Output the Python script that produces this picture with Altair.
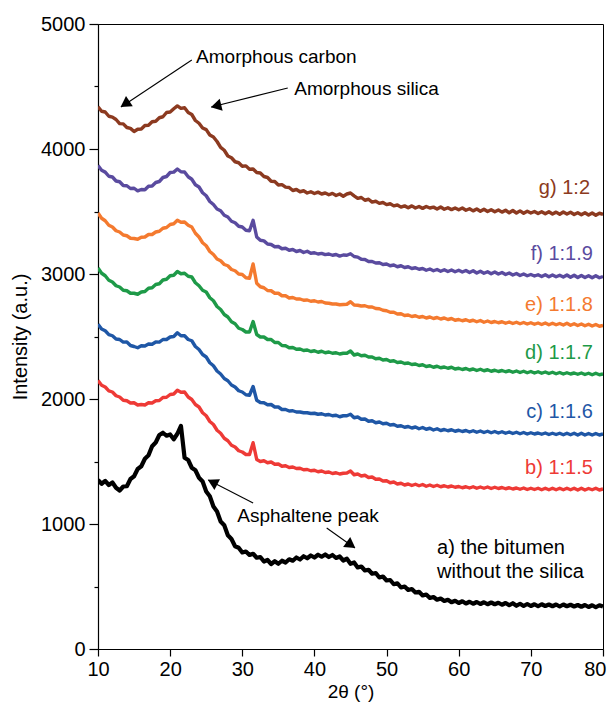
import altair as alt
import pandas as pd

# 2θ sampling positions (degrees)
two_theta = [10 + 0.5 * i for i in range(141)]

a_bitumen = [
    1352, 1322, 1345, 1312, 1332, 1290, 1268, 1300, 1302, 1360,
    1382, 1440, 1462, 1522, 1550, 1622, 1652, 1712, 1730, 1706,
    1716, 1678, 1722, 1785, 1530, 1512, 1450, 1430, 1370, 1340,
    1260, 1222, 1140, 1100, 1020, 990, 910, 880, 822, 810,
    772, 780, 752, 762, 730, 736, 700, 712, 680, 702,
    682, 706, 692, 718, 706, 732, 716, 742, 726, 748,
    732, 754, 738, 756, 736, 752, 728, 740, 708, 722,
    682, 692, 652, 660, 628, 634, 602, 608, 572, 580,
    548, 552, 518, 526, 492, 500, 472, 480, 452, 458,
    428, 436, 408, 416, 394, 404, 384, 394, 374, 386,
    368, 382, 364, 378, 362, 376, 360, 374, 358, 372,
    358, 370, 354, 368, 350, 366, 346, 362, 344, 360,
    344, 358, 342, 358, 344, 356, 342, 356, 340, 356,
    342, 354, 340, 352, 338, 352, 336, 350, 334, 350,
    340,
]
b_1_1_5 = [
    2148, 2110, 2096, 2065, 2056, 2026, 2016, 1990, 1986, 1968,
    1970, 1952, 1956, 1952, 1970, 1968, 1986, 1988, 2012, 2014,
    2036, 2040, 2070, 2054, 2056, 2016, 1996, 1956, 1936, 1890,
    1866, 1820, 1796, 1750, 1726, 1686, 1666, 1630, 1616, 1586,
    1576, 1556, 1556, 1650, 1516, 1500, 1506, 1490, 1496, 1478,
    1480, 1462, 1466, 1452, 1456, 1444, 1446, 1434, 1436, 1426,
    1430, 1418, 1424, 1412, 1416, 1404, 1410, 1400, 1406, 1408,
    1424, 1394, 1400, 1384, 1390, 1372, 1376, 1358, 1360, 1344,
    1346, 1330, 1336, 1320, 1326, 1312, 1320, 1308, 1318, 1306,
    1316, 1302, 1312, 1300, 1310, 1298, 1306, 1296, 1304, 1294,
    1300, 1290, 1298, 1288, 1298, 1286, 1296, 1286, 1296, 1284,
    1294, 1284, 1292, 1282, 1290, 1280, 1288, 1278, 1288, 1276,
    1286, 1276, 1286, 1274, 1286, 1274, 1286, 1274, 1286, 1274,
    1286, 1274, 1286, 1272, 1286, 1272, 1284, 1274, 1286, 1272,
    1280,
]
c_1_1_6 = [
    2598, 2560, 2546, 2515, 2506, 2480, 2476, 2455, 2456, 2428,
    2420, 2410, 2426, 2424, 2440, 2438, 2456, 2455, 2476, 2476,
    2496, 2500, 2530, 2506, 2506, 2476, 2466, 2420, 2396, 2356,
    2336, 2290, 2266, 2224, 2200, 2164, 2146, 2112, 2096, 2066,
    2056, 2034, 2030, 2100, 1990, 1972, 1970, 1954, 1956, 1936,
    1936, 1916, 1916, 1904, 1906, 1896, 1896, 1890, 1890, 1884,
    1886, 1878, 1882, 1872, 1876, 1866, 1870, 1858, 1866, 1866,
    1878, 1850, 1856, 1838, 1840, 1822, 1826, 1810, 1816, 1802,
    1806, 1792, 1796, 1782, 1786, 1774, 1780, 1768, 1776, 1762,
    1772, 1758, 1766, 1752, 1762, 1748, 1756, 1746, 1754, 1742,
    1750, 1740, 1748, 1736, 1746, 1734, 1744, 1732, 1742, 1730,
    1740, 1728, 1738, 1726, 1736, 1724, 1734, 1722, 1732, 1720,
    1730, 1720, 1728, 1718, 1728, 1716, 1726, 1716, 1726, 1714,
    1726, 1714, 1726, 1712, 1726, 1712, 1724, 1712, 1724, 1712,
    1720,
]
d_1_1_7 = [
    3048, 3006, 2986, 2950, 2936, 2906, 2896, 2870, 2866, 2846,
    2846, 2838, 2856, 2860, 2886, 2890, 2916, 2922, 2952, 2958,
    2986, 2990, 3020, 3002, 3006, 2982, 2976, 2930, 2906, 2870,
    2856, 2810, 2786, 2740, 2716, 2676, 2656, 2618, 2602, 2566,
    2556, 2536, 2536, 2620, 2516, 2496, 2496, 2476, 2476, 2452,
    2452, 2428, 2426, 2410, 2412, 2398, 2400, 2388, 2392, 2380,
    2386, 2374, 2382, 2370, 2376, 2366, 2370, 2360, 2366, 2366,
    2384, 2352, 2360, 2346, 2350, 2336, 2336, 2322, 2326, 2312,
    2316, 2302, 2306, 2292, 2296, 2284, 2288, 2276, 2280, 2268,
    2274, 2260, 2266, 2254, 2262, 2250, 2256, 2246, 2254, 2240,
    2246, 2236, 2244, 2232, 2240, 2228, 2238, 2226, 2234, 2222,
    2230, 2220, 2228, 2218, 2226, 2214, 2224, 2212, 2222, 2210,
    2220, 2208, 2218, 2206, 2216, 2204, 2214, 2202, 2212, 2200,
    2210, 2200, 2208, 2198, 2208, 2196, 2206, 2194, 2206, 2194,
    2200,
]
e_1_1_8 = [
    3488, 3446, 3426, 3390, 3376, 3346, 3336, 3312, 3306, 3286,
    3284, 3278, 3294, 3296, 3316, 3316, 3336, 3342, 3366, 3372,
    3396, 3402, 3430, 3414, 3416, 3390, 3376, 3326, 3296, 3250,
    3226, 3180, 3156, 3120, 3106, 3076, 3066, 3036, 3026, 3000,
    2996, 2970, 2966, 3080, 2926, 2898, 2890, 2868, 2866, 2846,
    2846, 2826, 2826, 2808, 2812, 2800, 2800, 2790, 2792, 2782,
    2786, 2776, 2780, 2768, 2766, 2760, 2760, 2754, 2756, 2758,
    2778, 2752, 2750, 2744, 2746, 2736, 2736, 2724, 2722, 2710,
    2706, 2694, 2694, 2680, 2682, 2668, 2672, 2660, 2666, 2654,
    2660, 2648, 2656, 2644, 2652, 2640, 2648, 2636, 2644, 2630,
    2636, 2626, 2634, 2622, 2630, 2618, 2628, 2614, 2624, 2612,
    2620, 2610, 2618, 2606, 2616, 2604, 2614, 2602, 2612, 2600,
    2610, 2598, 2608, 2596, 2608, 2594, 2606, 2594, 2604, 2592,
    2606, 2590, 2602, 2588, 2600, 2586, 2598, 2584, 2596, 2582,
    2588,
]
f_1_1_9 = [
    3868, 3830, 3815, 3782, 3776, 3744, 3738, 3708, 3706, 3684,
    3686, 3665, 3676, 3674, 3702, 3704, 3732, 3740, 3772, 3780,
    3812, 3815, 3840, 3818, 3816, 3778, 3758, 3714, 3696, 3650,
    3626, 3580, 3556, 3520, 3506, 3470, 3456, 3422, 3410, 3382,
    3376, 3350, 3346, 3430, 3296, 3270, 3265, 3240, 3236, 3218,
    3220, 3202, 3206, 3190, 3196, 3180, 3188, 3172, 3182, 3166,
    3170, 3160, 3165, 3155, 3160, 3150, 3156, 3143, 3152, 3150,
    3162, 3140, 3135, 3118, 3116, 3100, 3100, 3088, 3090, 3076,
    3080, 3066, 3072, 3058, 3066, 3052, 3058, 3044, 3050, 3038,
    3044, 3030, 3040, 3026, 3036, 3022, 3034, 3020, 3032, 3018,
    3030, 3016, 3028, 3012, 3026, 3008, 3022, 3006, 3018, 3002,
    3016, 3000, 3012, 2996, 3008, 2992, 3004, 2988, 3000, 2986,
    2996, 2984, 2994, 2980, 2994, 2978, 2992, 2978, 2990, 2976,
    2992, 2974, 2990, 2972, 2988, 2972, 2986, 2970, 2986, 2970,
    2980,
]
g_1_2 = [
    4338, 4302, 4296, 4262, 4255, 4236, 4203, 4201, 4172, 4165,
    4140, 4158, 4160, 4188, 4190, 4218, 4222, 4250, 4258, 4292,
    4296, 4322, 4345, 4325, 4330, 4292, 4276, 4228, 4206, 4168,
    4155, 4112, 4096, 4060, 4013, 3990, 3944, 3930, 3898, 3890,
    3862, 3865, 3838, 3840, 3812, 3808, 3780, 3772, 3742, 3740,
    3712, 3715, 3695, 3692, 3668, 3676, 3658, 3666, 3648, 3658,
    3644, 3655, 3640, 3648, 3634, 3645, 3628, 3640, 3622, 3640,
    3648, 3625, 3605, 3612, 3590, 3598, 3575, 3582, 3565, 3572,
    3555, 3562, 3545, 3552, 3535, 3545, 3530, 3545, 3528, 3540,
    3525, 3540, 3528, 3535, 3520, 3536, 3518, 3530, 3515, 3528,
    3514, 3528, 3510, 3522, 3505, 3520, 3502, 3518, 3500, 3514,
    3498, 3512, 3495, 3510, 3490, 3508, 3488, 3505, 3486, 3502,
    3488, 3500, 3484, 3498, 3482, 3498, 3480, 3495, 3478, 3496,
    3480, 3494, 3476, 3490, 3474, 3490, 3472, 3488, 3470, 3486,
    3478,
]

series_keys = ["a", "b", "c", "d", "e", "f", "g"]
series_values = [a_bitumen, b_1_1_5, c_1_1_6, d_1_1_7, e_1_1_8, f_1_1_9, g_1_2]
series_colors = ["#000000", "#ee3a36", "#1f57a6", "#1e9a48", "#f47a2f", "#5a4b9f", "#8c3a20"]
series_widths = [4.2, 3.4, 3.4, 3.4, 3.4, 3.4, 3.4]

for vals in series_values:
    assert len(vals) == len(two_theta), len(vals)

# Curve labels
label_texts = ["g) 1:2", "f) 1:1.9", "e) 1:1.8", "d) 1:1.7", "c) 1:1.6", "b) 1:1.5"]
label_x = [78.2, 78.6, 78.6, 78.6, 78.6, 78.6]
label_y = [3690, 3160, 2750, 2370, 1900, 1450]
label_colors = ["#8c3a20", "#5a4b9f", "#f47a2f", "#1e9a48", "#1f57a6", "#ee3a36"]

bitumen_texts = ["a) the bitumen", "without the silica"]
bitumen_x = [57.0, 57.0]
bitumen_y = [808, 616]

# Annotations
note_texts = ["Amorphous carbon", "Amorphous silica", "Asphaltene peak"]
note_x = [23.6, 37.2, 29.3]
note_y = [4736, 4480, 1064]

arrow_x = [23.0, 36.3, 31.5, 41.7]
arrow_y = [4712, 4488, 1168, 968]
arrow_x2 = [13.2, 25.7, 25.3, 45.6]
arrow_y2 = [4336, 4336, 1352, 808]
head_x = [13.74, 26.36, 25.87, 45.07]
head_y = [4360, 4344, 1334, 832]
head_angle = [236.5, 256.1, 297.0, 125.5]

rows = []
for key, vals, w in zip(series_keys, series_values, series_widths):
    for t, v in zip(two_theta, vals):
        rows.append({"two_theta": t, "intensity": v, "series": key, "w": w})
df = pd.DataFrame(rows)

labels_df = pd.DataFrame({"x": label_x, "y": label_y, "text": label_texts, "color": label_colors})
bitumen_df = pd.DataFrame({"x": bitumen_x, "y": bitumen_y, "text": bitumen_texts})
notes_df = pd.DataFrame({"x": note_x, "y": note_y, "text": note_texts})
arrows_df = pd.DataFrame({"x": arrow_x, "y": arrow_y, "x2": arrow_x2, "y2": arrow_y2})
heads_df = pd.DataFrame({"x": head_x, "y": head_y, "angle": head_angle})

FONT = "Liberation Sans"

x_scale = alt.Scale(domain=[10, 80], nice=False, zero=False)
y_scale = alt.Scale(domain=[0, 5000], nice=False, zero=False)

x_axis = alt.Axis(
    title="2θ (°)",
    values=list(range(10, 81, 5)),
    labelExpr="datum.value % 10 === 0 ? datum.label : ''",
    tickSize={"condition": {"test": "datum.value % 10 === 0", "value": 7}, "value": 4},
    labelAlign={"condition": {"test": "datum.value === 80", "value": "right"}, "value": "center"},
    labelOffset={"condition": {"test": "datum.value === 80", "value": 3}, "value": 0},
    labelPadding=3,
    titlePadding=3,
    titleFontSize=19,
    labelFlush=False,
)
y_axis = alt.Axis(
    title="Intensity (a.u.)",
    values=list(range(0, 5001, 500)),
    labelExpr="datum.value % 1000 === 0 ? datum.label : ''",
    tickSize={"condition": {"test": "datum.value % 1000 === 0", "value": 9}, "value": 4},
    labelPadding=4,
    titlePadding=10,
    titleFontSize=20,
    format="d",
    labelFlush=False,
)

lines = alt.Chart(df).mark_line(clip=True, strokeJoin="round").encode(
    x=alt.X("two_theta:Q", scale=x_scale, axis=x_axis),
    y=alt.Y("intensity:Q", scale=y_scale, axis=y_axis),
    color=alt.Color("series:N", scale=alt.Scale(domain=series_keys, range=series_colors), legend=None),
    strokeWidth=alt.StrokeWidth("w:Q", scale=None),
    detail="series:N",
)

curve_labels = alt.Chart(labels_df).mark_text(
    align="right", baseline="middle", font=FONT, fontSize=20
).encode(
    x=alt.X("x:Q", scale=x_scale),
    y=alt.Y("y:Q", scale=y_scale),
    text="text:N",
    color=alt.Color("color:N", scale=None),
)

bitumen_labels = alt.Chart(bitumen_df).mark_text(
    align="left", baseline="middle", font=FONT, fontSize=20, color="black"
).encode(
    x=alt.X("x:Q", scale=x_scale),
    y=alt.Y("y:Q", scale=y_scale),
    text="text:N",
)

notes = alt.Chart(notes_df).mark_text(
    align="left", baseline="middle", font=FONT, fontSize=19, color="black"
).encode(
    x=alt.X("x:Q", scale=x_scale),
    y=alt.Y("y:Q", scale=y_scale),
    text="text:N",
)

arrows = alt.Chart(arrows_df).mark_rule(color="black", strokeWidth=1.1).encode(
    x=alt.X("x:Q", scale=x_scale),
    y=alt.Y("y:Q", scale=y_scale),
    x2="x2:Q",
    y2="y2:Q",
)

heads = alt.Chart(heads_df).mark_point(
    shape="triangle-up", filled=True, color="black", size=150, opacity=1
).encode(
    x=alt.X("x:Q", scale=x_scale),
    y=alt.Y("y:Q", scale=y_scale),
    angle=alt.Angle("angle:Q", scale=None),
)

chart = alt.layer(lines, curve_labels, bitumen_labels, notes, arrows, heads).properties(
    width=505,
    height=625,
    autosize=alt.AutoSizeParams(type="none"),
    padding={"left": 90, "top": 16, "right": 4, "bottom": 53},
).configure_axis(
    grid=False,
    domainColor="black",
    tickColor="black",
    labelColor="black",
    titleColor="black",
    labelFont=FONT,
    titleFont=FONT,
    labelFontSize=20,
    titleFontSize=18,
    titleFontWeight="normal",
    domainWidth=1.2,
    tickWidth=1.2,
).configure_view(
    stroke="black",
    strokeWidth=1,
)

chart.save("out.html", embed_options={"renderer": "svg", "actions": False})
